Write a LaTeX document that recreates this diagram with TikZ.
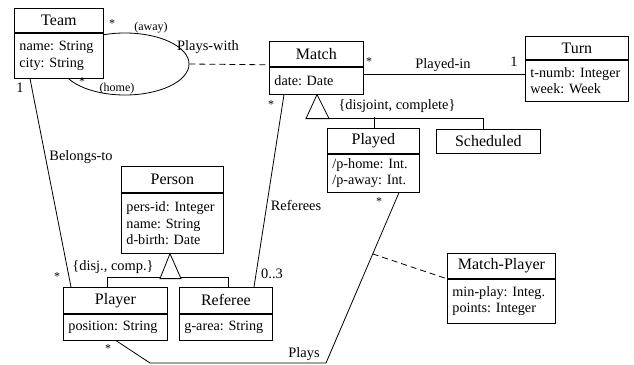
\documentclass[tikz,border=0pt]{standalone}
\usepackage{fontspec}
\setmainfont{Liberation Serif}
\usetikzlibrary{calc,shapes.geometric}
\begin{document}
\begin{tikzpicture}[x=1pt,y=-1pt,line width=0.8pt,
  hdr/.style={draw, fill=white, anchor=north west, inner sep=0pt, font=\fontsize{16}{18}\selectfont},
  bdy/.style={draw, fill=white, anchor=north west, inner xsep=5pt, inner ysep=0pt, align=left, font=\fontsize{14.2}{16.5}\selectfont, execute at begin node={\frenchspacing\hyphenpenalty=10000\relax}},
  lbl/.style={inner sep=0pt, font=\fontsize{14.4}{16}\selectfont},
  role/.style={inner sep=0pt, font=\fontsize{12}{13}\selectfont},
  gentri/.style={draw, fill=white},
  assocdash/.style={dash pattern=on 6pt off 4pt}]
\useasboundingbox (0,0) rectangle (634,364);

% Plays-with association (ellipse)
\node[draw, ellipse, minimum width=128, minimum height=62, inner sep=0pt] (pw) at (125,64) {};

% classes
\node[hdr, minimum width=89, minimum height=24] (team) at (14,8) {Team};
\node[bdy, text width=79, minimum height=45] (teamb) at (team.south west) {name: String\\city: String};

\node[hdr, minimum width=94, minimum height=25] (match) at (269,41) {Match};
\node[bdy, text width=84, minimum height=27] (matchb) at (match.south west) {date: Date};

\node[hdr, minimum width=103, minimum height=23] (turn) at (525,36) {Turn};
\node[bdy, text width=93, minimum height=41] (turnb) at (turn.south west) {t-numb: Integer\\week: Week};

\node[hdr, minimum width=92, minimum height=25] (played) at (327,128) {Played};
\node[bdy, text width=82, minimum height=38] (playedb) at (played.south west) {/p-home: Int.\\/p-away: Int.};

\node[hdr, minimum width=104, minimum height=24] (sched) at (436,129) {Scheduled};

\node[hdr, minimum width=102, minimum height=26] (person) at (121,166) {Person};
\node[bdy, text width=92, minimum height=60] (personb) at (person.south west) {pers-id: Integer\\name: String\\d-birth: Date};

\node[hdr, minimum width=104, minimum height=26] (player) at (63,287) {Player};
\node[bdy, text width=94, minimum height=26] (playerb) at (player.south west) {position: String};

\node[hdr, minimum width=93, minimum height=26] (referee) at (179,287) {Referee};
\node[bdy, text width=83, minimum height=26] (refereeb) at (referee.south west) {g-area: String};

\node[hdr, minimum width=108, minimum height=25] (mp) at (447,253) {Match-Player};
\node[bdy, text width=98, minimum height=44] (mpb) at (mp.south west) {min-play: Integ.\\points: Integer};

% Plays-with dashed link
\draw[assocdash] (pw.east) -- ($(match.south west)+(0,-2)$);

% associations
\draw ($(teamb.south west)+(16,0)$) -- ($(player.north west)+(8,0)$);
\draw ($(matchb.south west)+(15,0)$) -- ($(referee.north west)+(75,0)$);
\draw ($(matchb.north east)+(0,8)$) -- ($(turnb.north west)+(0,15)$);
\coordinate (p1) at (150,363);
\coordinate (p2) at (326,363);
\draw ($(playerb.south west)+(53,0)$) -- (p1) -- (p2) -- ($(playedb.south west)+(72,0)$);
\coordinate (pm) at ($(p2)!0.64!($(playedb.south west)+(72,0)$)$);
\draw[assocdash] (pm) -- (mpb.north west);

% generalization Match
\coordinate (t1) at ($(matchb.south west)+(48,0)$);
\draw ($(t1)+(12,24)$) -| ($(sched.north west)+(47,0)$);
\draw ($(played.north west)+(47,0)$) -- ++(0,-11);
\draw[gentri] (t1) -- ++(-11,24) -- ++(23,0) -- cycle;

% generalization Person
\coordinate (t2) at ($(personb.south west)+(49,0)$);
\draw ($(player.north west)+(44,0)$) -- ++(0,-10) -- ($(referee.north west)+(49,-10)$) -- ++(0,10);
\draw[gentri] (t2) -- ++(-10,25) -- ++(21,0) -- cycle;

% labels
\node[role] (s1) at (112,24) {*};
\node[role] (away) at (151,28) {(away)};
\node[role] (s2) at (82,82) {*};
\node[role] (home) at (117,89) {(home)};
\node[lbl] (pwl) at (208,47) {Plays-with};
\node[lbl] (one1) at (20,88) {1};
\node[role] (s3) at (57,277) {*};
\node[lbl] (bel) at (81,157) {Belongs-to};
\node[lbl] (refl) at (296,205) {Referees};
\node[role] (s4) at (271,105) {*};
\node[lbl] (zt) at (272,274) {0..3};
\node[role] (s5) at (369,62) {*};
\node[lbl] (pin) at (443,65) {Played-in};
\node[lbl] (one2) at (514,62) {1};
\node[lbl] (dc) at (397,106) {\{disjoint, complete\}};
\node[lbl] (dc2) at (113,267) {\{disj., comp.\}};
\node[role] (s6) at (108,349) {*};
\node[lbl] (plays) at (304,354) {Plays};
\node[role] (s7) at (379,202) {*};
\end{tikzpicture}
\end{document}
